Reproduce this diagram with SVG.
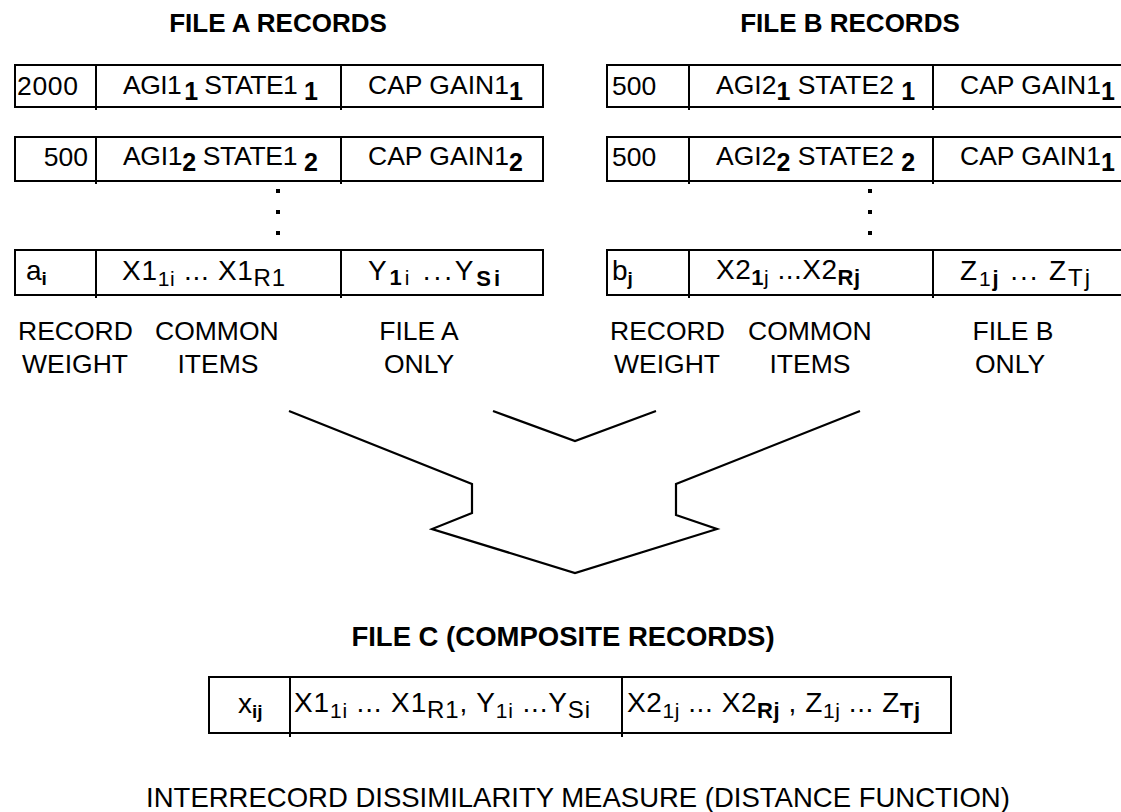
<svg xmlns="http://www.w3.org/2000/svg" width="1121" height="812" viewBox="0 0 1121 812">
  <style>
    text { font-family: "Liberation Sans", Arial, Helvetica, sans-serif; fill: #000; }
    .title { font-size: 26px; font-weight: bold; }
    .titleC { font-size: 27.5px; font-weight: bold; }
    .cell { font-size: 26.5px; }
    .big { font-size: 28px; }
    .lab { font-size: 26.5px; }
    .cap { font-size: 27.5px; }
    .sb { font-size: 25px; font-weight: bold; }
    .sbs { font-size: 19px; font-weight: bold; }
    .sbm { font-size: 22px; font-weight: bold; }
    .ss { font-size: 21px; }
    .sl { font-size: 24px; }
    .box { fill: #fff; stroke: #000; stroke-width: 2; }
    .div { stroke: #000; stroke-width: 2; }
    .dot { fill: #000; }
    .arrow { fill: none; stroke: #000; stroke-width: 2.2; stroke-linejoin: miter; }
  </style>

  <!-- File A -->
  <g id="fileA-title"><text class="title" x="278" y="32" text-anchor="middle">FILE A RECORDS</text></g>

  <g id="fileA-row1">
    <rect class="box" x="15" y="65" width="528" height="42"/>
    <line class="div" x1="96" y1="65" x2="96" y2="110"/>
    <line class="div" x1="341" y1="65" x2="341" y2="110"/>
    <text class="cell" x="17" y="95" textLength="61">2000</text>
    <text class="cell" x="123" y="94" textLength="195">AGI1<tspan class="sb" dx="3" dy="6">1</tspan><tspan dy="-6"> STATE1 </tspan><tspan class="sb" dy="6">1</tspan></text>
    <text class="cell" x="368" y="94">CAP GAIN1<tspan class="sb" dy="6">1</tspan></text>
  </g>

  <g id="fileA-row2">
    <rect class="box" x="15" y="137" width="528" height="44"/>
    <line class="div" x1="96" y1="137" x2="96" y2="184"/>
    <line class="div" x1="341" y1="137" x2="341" y2="184"/>
    <text class="cell" x="88" y="166" text-anchor="end">500</text>
    <text class="cell" x="123" y="165" textLength="195">AGI1<tspan class="sb" dy="6">2</tspan><tspan dy="-6"> STATE1 </tspan><tspan class="sb" dy="6">2</tspan></text>
    <text class="cell" x="368" y="165">CAP GAIN1<tspan class="sb" dy="6">2</tspan></text>
  </g>

  <g id="fileA-ellipsis">
    <rect class="dot" x="276" y="189" width="4" height="4"/>
    <rect class="dot" x="276" y="210" width="4" height="4"/>
    <rect class="dot" x="276" y="231" width="4" height="4"/>
  </g>

  <g id="fileA-row3">
    <rect class="box" x="15" y="250" width="528" height="45"/>
    <line class="div" x1="96" y1="250" x2="96" y2="298"/>
    <line class="div" x1="341" y1="250" x2="341" y2="298"/>
    <text class="big" x="26" y="280">a<tspan class="sbs" dy="5">i</tspan></text>
    <text class="big" x="122" y="280" textLength="163">X1<tspan class="ss" dy="6">1i</tspan><tspan dy="-6"> ... X1</tspan><tspan class="sl" dy="6">R1</tspan></text>
    <text class="big" x="368" y="280" textLength="132">Y<tspan class="sbm" dy="5">1</tspan><tspan class="ss">i</tspan><tspan dy="-5"> ...Y</tspan><tspan class="sbm" dy="6">Si</tspan></text>
  </g>

  <g id="fileA-labels">
    <text class="lab" x="18" y="340">RECORD</text>
    <text class="lab" x="22" y="373">WEIGHT</text>
    <text class="lab" x="155" y="340">COMMON</text>
    <text class="lab" x="218" y="373" text-anchor="middle">ITEMS</text>
    <text class="lab" x="419" y="340" text-anchor="middle">FILE A</text>
    <text class="lab" x="419" y="373" text-anchor="middle">ONLY</text>
  </g>

  <!-- File B -->
  <g id="fileB-title"><text class="title" x="850" y="32" text-anchor="middle">FILE B RECORDS</text></g>

  <g id="fileB-row1">
    <rect class="box" x="607" y="65" width="540" height="42"/>
    <line class="div" x1="689" y1="65" x2="689" y2="110"/>
    <line class="div" x1="933" y1="65" x2="933" y2="110"/>
    <text class="cell" x="612" y="95">500</text>
    <text class="cell" x="716" y="94">AGI2<tspan class="sb" dy="6">1</tspan><tspan dy="-6"> STATE2 </tspan><tspan class="sb" dy="6">1</tspan></text>
    <text class="cell" x="960" y="94">CAP GAIN1<tspan class="sb" dy="6">1</tspan></text>
  </g>

  <g id="fileB-row2">
    <rect class="box" x="607" y="137" width="540" height="44"/>
    <line class="div" x1="689" y1="137" x2="689" y2="184"/>
    <line class="div" x1="933" y1="137" x2="933" y2="184"/>
    <text class="cell" x="612" y="166">500</text>
    <text class="cell" x="716" y="165">AGI2<tspan class="sb" dy="6">2</tspan><tspan dy="-6"> STATE2 </tspan><tspan class="sb" dy="6">2</tspan></text>
    <text class="cell" x="960" y="165">CAP GAIN1<tspan class="sb" dy="6">1</tspan></text>
  </g>

  <g id="fileB-ellipsis">
    <rect class="dot" x="868" y="189" width="4" height="4"/>
    <rect class="dot" x="868" y="210" width="4" height="4"/>
    <rect class="dot" x="868" y="231" width="4" height="4"/>
  </g>

  <g id="fileB-row3">
    <rect class="box" x="607" y="250" width="540" height="45"/>
    <line class="div" x1="689" y1="250" x2="689" y2="298"/>
    <line class="div" x1="933" y1="250" x2="933" y2="298"/>
    <text class="big" x="612" y="280">b<tspan class="sbs" dy="5">j</tspan></text>
    <text class="big" x="716" y="279" textLength="144">X2<tspan class="sbm" dy="6">1</tspan><tspan class="ss">j</tspan><tspan dy="-6"> ...X2</tspan><tspan class="sbm" dy="6">Rj</tspan></text>
    <text class="big" x="960" y="280" textLength="130">Z<tspan class="ss" dy="6">1</tspan><tspan class="sbm">j</tspan><tspan dy="-6"> ... Z</tspan><tspan class="sl" dy="6">Tj</tspan></text>
  </g>

  <g id="fileB-labels">
    <text class="lab" x="610" y="340">RECORD</text>
    <text class="lab" x="614" y="373">WEIGHT</text>
    <text class="lab" x="748" y="340">COMMON</text>
    <text class="lab" x="810" y="373" text-anchor="middle">ITEMS</text>
    <text class="lab" x="1013" y="340" text-anchor="middle">FILE B</text>
    <text class="lab" x="1010" y="373" text-anchor="middle">ONLY</text>
  </g>

  <!-- merge arrow -->
  <g id="connectors">
    <path class="arrow" d="M289,411 L472,484 L472,513 L432,529 L575,573 L717,529 L676,515 L676,484 L860,411"/>
    <path class="arrow" d="M493,411 L575,441 L656,411"/>
  </g>

  <!-- File C -->
  <g id="fileC-title"><text class="titleC" x="563" y="646" text-anchor="middle">FILE C (COMPOSITE RECORDS)</text></g>

  <g id="fileC-row">
    <rect class="box" x="209" y="677" width="742" height="56"/>
    <line class="div" x1="290" y1="677" x2="290" y2="737"/>
    <line class="div" x1="622" y1="677" x2="622" y2="737"/>
    <text class="big" x="238" y="713">x<tspan class="sbs" dy="5">ij</tspan></text>
    <text class="big" x="294" y="712" textLength="296">X1<tspan class="ss" dy="6">1i</tspan><tspan dy="-6"> ... X1</tspan><tspan class="sl" dy="6">R1</tspan><tspan dy="-6">, Y</tspan><tspan class="ss" dy="6">1i</tspan><tspan dy="-6"> ...Y</tspan><tspan class="sl" dy="6">Si</tspan></text>
    <text class="big" x="627" y="712" textLength="293">X2<tspan class="ss" dy="6">1j</tspan><tspan dy="-6"> ... X2</tspan><tspan class="sbm" dy="6">Rj</tspan><tspan dy="-6"> , Z</tspan><tspan class="ss" dy="6">1j</tspan><tspan dy="-6"> ... Z</tspan><tspan class="sbm" dy="6">Tj</tspan></text>
  </g>

  <g id="caption"><text class="cap" x="578" y="807" text-anchor="middle">INTERRECORD DISSIMILARITY MEASURE (DISTANCE FUNCTION)</text></g>
</svg>
